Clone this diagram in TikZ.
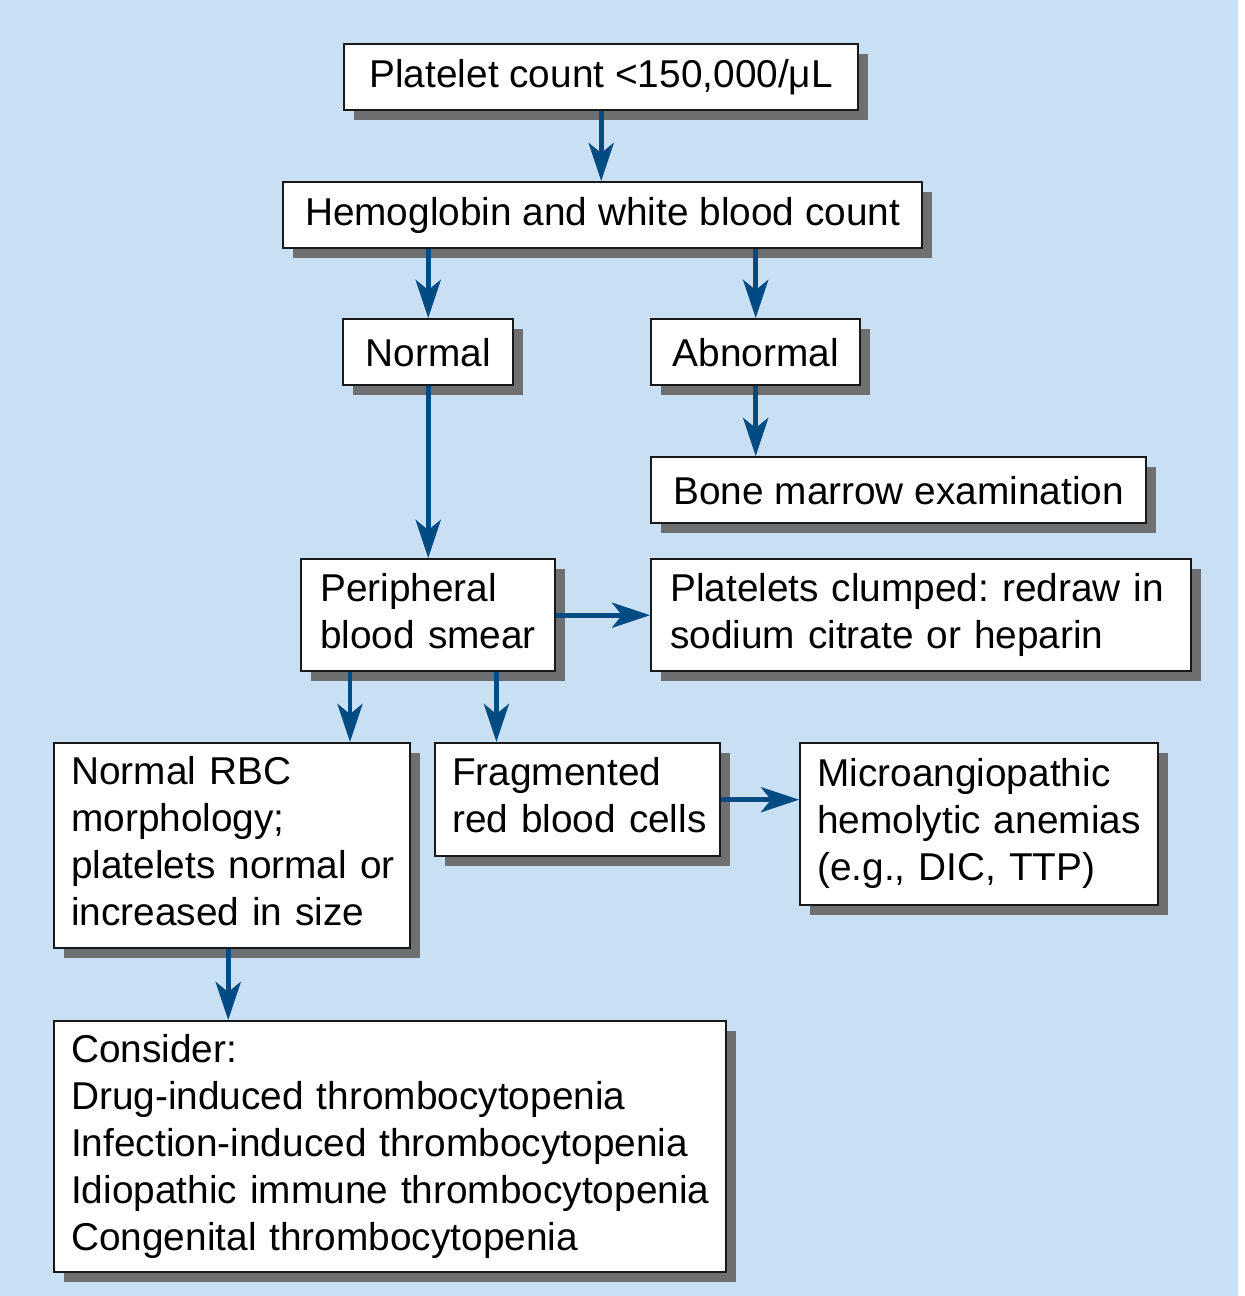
\documentclass[tikz,border=0pt]{standalone}
\usepackage{fontspec}
\setmainfont{Liberation Sans}
\usetikzlibrary{arrows.meta,shadows}

\definecolor{bgblue}{RGB}{200,223,244}
\definecolor{shadowgray}{RGB}{110,111,113}
\definecolor{arrowblue}{RGB}{0,75,130}

% lines of a box, kept unbroken
\newcommand{\boxlines}[1]{\begin{tabular}{@{}l@{}}#1\end{tabular}}

\tikzset{
  box/.style={draw=black!90, line width=1.2pt, fill=white, inner ysep=0pt,
    inner xsep=8.5pt, anchor=north west, minimum height=33pt,
    font=\fontsize{19.4}{23.5}\selectfont\frenchspacing,
    drop shadow={shadow xshift=5pt, shadow yshift=-5pt, fill=shadowgray, opacity=1}},
  textbox/.style={box, align=left, text width=#1},
  arrow/.style={arrowblue, line width=2.3pt,
    -{Stealth[length=19pt, width=12.5pt, inset=5pt]}}
}

\begin{document}
\begin{tikzpicture}[x=0.5pt, y=-0.5pt]
    % Background
    \useasboundingbox (0,0) rectangle (1245,1296);
    \fill[bgblue] (0,0) rectangle (1238,1296);

    % Boxes
    \node[box, minimum width=257pt] (plt) at (343,43) {Platelet count <150,000/μL};
    \node[box, minimum width=319.5pt] (hgb) at (282,181) {Hemoglobin and white blood count};
    \node[box, minimum width=85pt] (normal) at (342,318) {Normal};
    \node[box, minimum width=104.5pt] (abnormal) at (650,318) {Abnormal};
    \node[box, minimum width=247.5pt] (marrow) at (650,456) {Bone marrow examination};
    \node[textbox=108pt, minimum height=56pt, inner xsep=9.5pt] (smear) at (300,558)
        {\boxlines{Peripheral\\blood smear}};
    \node[textbox=251pt, minimum height=56pt, inner xsep=9.5pt] (clumped) at (650,558)
        {\boxlines{Platelets clumped: redraw in\\sodium citrate or heparin}};
    \node[textbox=161pt, minimum height=102.5pt] (rbc) at (53,742)
        {\boxlines{Normal RBC\\morphology;\\platelets normal or\\increased in size}};
    \node[textbox=125.5pt, minimum height=56.5pt] (frag) at (434,742)
        {\boxlines{Fragmented\\red blood cells}};
    \node[textbox=162pt, minimum height=81pt] (micro) at (799,742)
        {\boxlines{Microangiopathic\\hemolytic anemias\\(e.g., DIC, TTP)}};
    \node[textbox=319pt, minimum height=125.5pt] (consider) at (53,1020)
        {\boxlines{Consider:\\Drug-induced thrombocytopenia\\Infection-induced thrombocytopenia\\Idiopathic immune thrombocytopenia\\Congenital thrombocytopenia}};

    % Arrows
    \draw[arrow] (plt.south) -- (plt.south |- hgb.north);
    \draw[arrow] (hgb.south -| normal.north) -- (normal.north);
    \draw[arrow] (hgb.south -| abnormal.north) -- (abnormal.north);
    \draw[arrow] (abnormal.south) -- (abnormal.south |- marrow.north);
    \draw[arrow] (normal.south) -- (normal.south |- smear.north);
    \draw[arrow] (smear.east) -- (smear.east -| clumped.west);
    \draw[arrow] ([xshift=25pt]smear.south west) -- ([xshift=25pt]smear.south west |- rbc.north);
    \draw[arrow] ([xshift=-30pt]smear.south east) -- ([xshift=-30pt]smear.south east |- frag.north);
    \draw[arrow] (frag.east) -- (frag.east -| micro.west);
    \draw[arrow] ([xshift=-2pt]rbc.south) -- ([xshift=-2pt]rbc.south |- consider.north);
\end{tikzpicture}
\end{document}
